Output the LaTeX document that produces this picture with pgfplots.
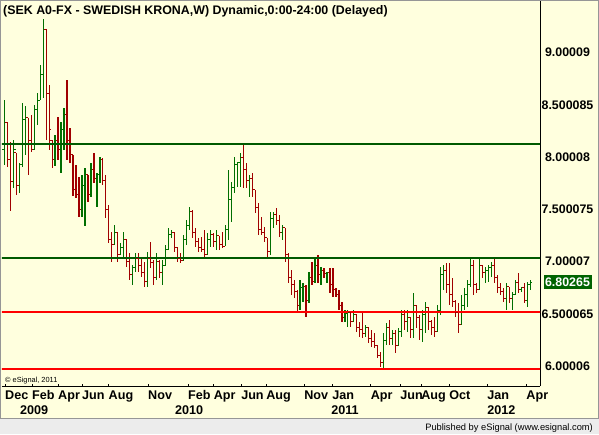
\documentclass[border=0pt]{standalone}
\usepackage{pgfplots}
\pgfplotsset{compat=1.18}
\usepackage{pgfplotstable}
\usepackage{fontspec}
\setmainfont{Liberation Sans}
\definecolor{bg}{RGB}{255,255,222}
\definecolor{upg}{RGB}{0,110,0}
\definecolor{dnr}{RGB}{160,0,0}
\definecolor{lineg}{RGB}{0,90,0}
\definecolor{liner}{RGB}{255,0,0}
\definecolor{lastg}{RGB}{0,100,0}
\definecolor{band}{RGB}{236,236,236}
\definecolor{framec}{RGB}{150,150,150}
\pgfdeclareplotmark{ohlco}{\pgfpathmoveto{\pgfqpoint{-2.3pt}{0pt}}\pgfpathlineto{\pgfqpoint{0pt}{0pt}}\pgfusepathqstroke}
\pgfdeclareplotmark{ohlcc}{\pgfpathmoveto{\pgfqpoint{0pt}{0pt}}\pgfpathlineto{\pgfqpoint{2.3pt}{0pt}}\pgfusepathqstroke}
\pgfplotstableread{
i O H L C
0 8.069 8.547 7.925 8.327
1 8.327 8.337 7.906 7.973
2 7.973 8.145 7.484 7.762
3 7.762 8.164 7.705 8.069
4 8.040 8.040 7.638 7.733
5 7.733 7.944 7.657 7.925
6 7.925 8.519 7.906 8.356
7 8.356 8.490 8.021 8.375
8 8.375 8.375 7.829 8.164
9 8.164 8.404 8.049 8.069
10 8.069 8.500 8.069 8.452
11 8.452 8.614 8.308 8.547
12 8.547 8.883 8.547 8.787
13 8.787 9.323 8.567 9.218
14 9.218 9.227 8.164 8.614
15 8.614 8.691 8.069 8.260
16 8.164 8.164 7.896 7.973
17 7.973 8.212 7.915 8.164
18 8.164 8.385 7.973 8.069
19 8.069 8.337 7.848 8.260
20 8.260 8.471 8.069 8.404
21 8.404 8.739 7.973 8.164
22 8.164 8.279 7.944 8.021
23 8.021 8.021 7.628 7.686
24 7.686 7.925 7.609 7.638
25 7.638 7.810 7.427 7.494
26 7.494 7.829 7.427 7.733
27 7.733 7.896 7.341 7.829
28 7.829 7.829 7.571 7.638
29 7.638 7.944 7.619 7.877
30 7.877 8.040 7.753 7.800
31 7.800 7.848 7.523 7.829
32 7.829 8.002 7.753 7.973
33 7.973 7.992 7.733 7.781
34 7.781 7.829 7.417 7.494
35 7.494 7.542 7.178 7.207
36 7.207 7.283 6.996 7.159
37 7.159 7.350 7.159 7.283
38 7.283 7.283 6.996 7.063
39 7.063 7.178 7.063 7.130
40 7.130 7.283 7.034 7.207
41 7.207 7.207 6.948 6.996
42 6.996 7.082 6.824 6.872
43 6.872 6.967 6.776 6.939
44 6.939 7.082 6.900 7.034
45 7.034 7.082 6.900 6.967
46 6.967 7.044 6.852 6.900
47 6.900 6.996 6.757 6.805
48 6.805 7.092 6.757 7.034
49 7.034 7.188 6.939 6.987
50 6.987 7.015 6.776 6.843
51 6.843 7.082 6.824 6.996
52 6.996 7.015 6.843 6.900
53 6.900 7.015 6.776 6.967
54 6.967 7.159 6.967 7.111
55 7.111 7.322 7.111 7.255
56 7.255 7.303 7.226 7.283
57 7.283 7.283 7.092 7.130
58 7.130 7.130 6.996 7.034
59 7.034 7.082 6.987 7.015
60 7.015 7.255 7.015 7.207
61 7.207 7.398 7.159 7.350
62 7.350 7.523 7.303 7.475
63 7.475 7.494 7.226 7.283
64 7.283 7.322 7.140 7.188
65 7.188 7.226 7.092 7.130
66 7.130 7.236 7.092 7.111
67 7.111 7.303 7.034 7.063
68 7.063 7.274 7.063 7.207
69 7.207 7.303 7.140 7.255
70 7.255 7.274 7.140 7.188
71 7.188 7.303 7.111 7.245
72 7.245 7.245 7.111 7.159
73 7.159 7.283 7.130 7.149
74 7.149 7.350 7.149 7.303
75 7.303 7.877 7.207 7.590
76 7.590 7.762 7.379 7.705
77 7.705 8.002 7.657 7.925
78 7.925 7.954 7.714 7.944
79 7.944 8.040 7.714 7.992
80 7.992 8.136 7.705 7.877
81 7.877 7.944 7.705 7.781
82 7.781 7.829 7.619 7.800
83 7.800 7.848 7.619 7.686
84 7.686 7.686 7.465 7.513
85 7.513 7.561 7.255 7.303
86 7.303 7.427 7.255 7.283
87 7.283 7.331 7.188 7.226
88 7.226 7.226 7.044 7.092
89 7.092 7.475 7.063 7.417
90 7.417 7.475 7.322 7.446
91 7.446 7.513 7.350 7.398
92 7.398 7.446 7.236 7.283
93 7.283 7.350 7.207 7.322
94 7.322 7.322 6.996 7.063
95 7.063 7.082 6.795 6.843
96 6.843 6.919 6.680 6.776
97 6.776 6.824 6.651 6.709
98 6.709 6.728 6.517 6.584
99 6.584 6.824 6.536 6.747
100 6.747 6.795 6.613 6.766
101 6.766 6.776 6.469 6.632
102 6.632 6.900 6.603 6.843
103 6.843 6.996 6.776 6.805
104 6.805 7.044 6.795 6.967
105 6.967 7.063 6.795 6.872
106 6.872 6.948 6.776 6.919
107 6.919 6.939 6.843 6.881
108 6.881 6.900 6.795 6.891
109 6.891 6.939 6.699 6.776
110 6.776 6.939 6.661 6.728
111 6.728 6.747 6.661 6.680
112 6.680 6.728 6.536 6.584
113 6.584 6.613 6.422 6.460
114 6.460 6.536 6.422 6.498
115 6.498 6.536 6.374 6.517
116 6.517 6.517 6.374 6.422
117 6.422 6.536 6.422 6.489
118 6.489 6.489 6.326 6.364
119 6.364 6.422 6.278 6.345
120 6.345 6.517 6.268 6.307
121 6.307 6.393 6.278 6.364
122 6.364 6.374 6.220 6.268
123 6.268 6.345 6.182 6.230
124 6.230 6.316 6.173 6.201
125 6.201 6.201 6.077 6.105
126 6.105 6.134 5.991 6.038
127 6.038 6.316 5.981 6.249
128 6.249 6.412 6.201 6.364
129 6.364 6.441 6.201 6.268
130 6.268 6.345 6.201 6.316
131 6.316 6.345 6.125 6.201
132 6.201 6.364 6.201 6.326
133 6.326 6.536 6.278 6.489
134 6.489 6.536 6.345 6.422
135 6.422 6.536 6.326 6.460
136 6.460 6.460 6.268 6.345
137 6.345 6.699 6.268 6.584
138 6.584 6.584 6.364 6.460
139 6.460 6.489 6.249 6.345
140 6.345 6.536 6.230 6.489
141 6.489 6.613 6.316 6.556
142 6.556 6.556 6.345 6.422
143 6.422 6.441 6.297 6.364
144 6.364 6.469 6.278 6.326
145 6.326 6.584 6.326 6.536
146 6.536 6.948 6.489 6.872
147 6.872 6.967 6.728 6.919
148 6.919 6.987 6.699 6.776
149 6.776 6.987 6.584 6.680
150 6.680 6.843 6.565 6.613
151 6.613 6.632 6.469 6.517
152 6.517 6.603 6.316 6.393
153 6.393 6.680 6.393 6.584
154 6.584 6.747 6.536 6.680
155 6.680 6.824 6.565 6.776
156 6.776 7.034 6.757 6.967
157 6.967 7.015 6.680 6.776
158 6.776 6.795 6.699 6.728
159 6.728 7.034 6.728 6.967
160 6.967 6.967 6.843 6.891
161 6.891 6.948 6.795 6.919
162 6.919 6.967 6.805 6.939
163 6.939 6.996 6.852 6.967
164 6.967 7.044 6.795 6.843
165 6.843 6.872 6.699 6.747
166 6.747 6.795 6.680 6.709
167 6.709 6.747 6.613 6.651
168 6.651 6.795 6.536 6.757
169 6.757 6.757 6.603 6.651
170 6.651 6.709 6.536 6.680
171 6.680 6.824 6.680 6.795
172 6.795 6.891 6.699 6.728
173 6.728 6.757 6.709 6.747
174 6.747 6.795 6.603 6.632
175 6.632 6.805 6.565 6.776
176 6.776 6.824 6.728 6.80265
}\sek
\begin{document}
\begin{tikzpicture}
\useasboundingbox (0pt,0pt) rectangle (599pt,434pt);
\fill[bg] (0pt,0pt) rectangle (599pt,434pt);
\fill[band] (0pt,0pt) rectangle (599pt,15.5pt);
\draw[framec, line width=1pt] (0pt,15.5pt) -- (599pt,15.5pt);
\draw[framec, line width=1.2pt] (0.8pt,15.5pt) -- (0.8pt,433.5pt) -- (598.2pt,433.5pt) -- (598.2pt,15.5pt);
\begin{axis}[
  at={(2pt,48pt)}, anchor=south west,
  scale only axis, width=538pt, height=385pt,
  xmin=-0.77, xmax=179.3, ymin=5.8085, ymax=9.4952,
  axis x line*=bottom, axis y line*=right,
  axis line style={black, line width=1pt},
  tick align=inside, major tick length=2.5pt,
  xtick={0.23,9.27,17.98,26.01,34.88,48.11,61.5,70.04,79.24,87.61,100.33,109.71,122.6,132.5,139.5,148.9,161.6,174.7},
  xticklabels={Dec,Feb,Apr,Jun,Aug,Nov,Feb,Apr,Jun,Aug,Nov,Jan,Apr,Jun,Aug,Oct,Jan,Apr},
  xticklabel style={anchor=north west, inner sep=0pt, yshift=-4.5pt, font=\fontsize{12.6}{14}\selectfont\bfseries},
  x tick style={black, line width=0.8pt},
  extra x ticks={5.26,57.1,109.4,161.6},
  extra x tick labels={2009,2010,2011,2012},
  extra x tick style={tick style={draw=none}, xticklabel style={yshift=-15.3pt}},
  ytick={6.00006,6.500065,7.00007,7.500075,8.00008,8.500085,9.00009},
  yticklabels={6.00006,6.500065,7.00007,7.500075,8.00008,8.500085,9.00009},
  y tick style={draw=none},
  yticklabel style={anchor=center, xshift=27.5pt, font=\fontsize{12.4}{14}\selectfont\bfseries},
  extra y ticks={6.80265}, extra y tick labels={6.80265},
  extra y tick style={yticklabel style={fill=lastg, text=white, inner sep=0pt, minimum width=48pt, minimum height=14pt}},
]
% up bars: high-low line with close tick
\addplot[only marks, mark=ohlcc, color=upg, mark options={line width=1pt}, forget plot,
  x filter/.expression={\thisrow{C}>\thisrow{O} ? x : nan},
  error bars/.cd, y dir=both, y explicit, error mark=none,
  error bar style={upg, line width=1.2pt}]
  table[x=i, y=C, y error plus expr=\thisrow{H}-\thisrow{C}, y error minus expr=\thisrow{C}-\thisrow{L}] {\sek};
\addplot[only marks, mark=ohlco, color=upg, mark options={line width=1pt}, forget plot,
  x filter/.expression={\thisrow{C}>\thisrow{O} ? x : nan}]
  table[x=i, y=O] {\sek};
% down bars
\addplot[only marks, mark=ohlcc, color=dnr, mark options={line width=1pt}, forget plot,
  x filter/.expression={\thisrow{C}>\thisrow{O} ? nan : x},
  error bars/.cd, y dir=both, y explicit, error mark=none,
  error bar style={dnr, line width=1.2pt}]
  table[x=i, y=C, y error plus expr=\thisrow{H}-\thisrow{C}, y error minus expr=\thisrow{C}-\thisrow{L}] {\sek};
\addplot[only marks, mark=ohlco, color=dnr, mark options={line width=1pt}, forget plot,
  x filter/.expression={\thisrow{C}>\thisrow{O} ? nan : x}]
  table[x=i, y=O] {\sek};
% support / resistance lines
\addplot[lineg, line width=2.6pt, forget plot] coordinates {(-2,8.126) (181,8.126)};
\addplot[lineg, line width=2.4pt, forget plot] coordinates {(-2,7.037) (181,7.037)};
\addplot[liner, line width=2.4pt, forget plot] coordinates {(-2,6.517) (181,6.517)};
\addplot[liner, line width=2.4pt, forget plot] coordinates {(-2,5.971) (181,5.971)};
\end{axis}
\node[anchor=base west, inner sep=0pt, font=\fontsize{12.4}{14}\selectfont\bfseries] at (3pt,419pt) {(SEK A0-FX - SWEDISH KRONA,W) Dynamic,0:00-24:00 (Delayed)};
\node[anchor=base west, inner sep=0pt, font=\fontsize{7.4}{9}\selectfont] at (5pt,52pt) {© eSignal, 2011};
\node[anchor=base east, inner sep=0pt, font=\fontsize{9.3}{11}\selectfont] at (593pt,3.5pt) {Published by eSignal (www.esignal.com)};
\end{tikzpicture}
\end{document}
